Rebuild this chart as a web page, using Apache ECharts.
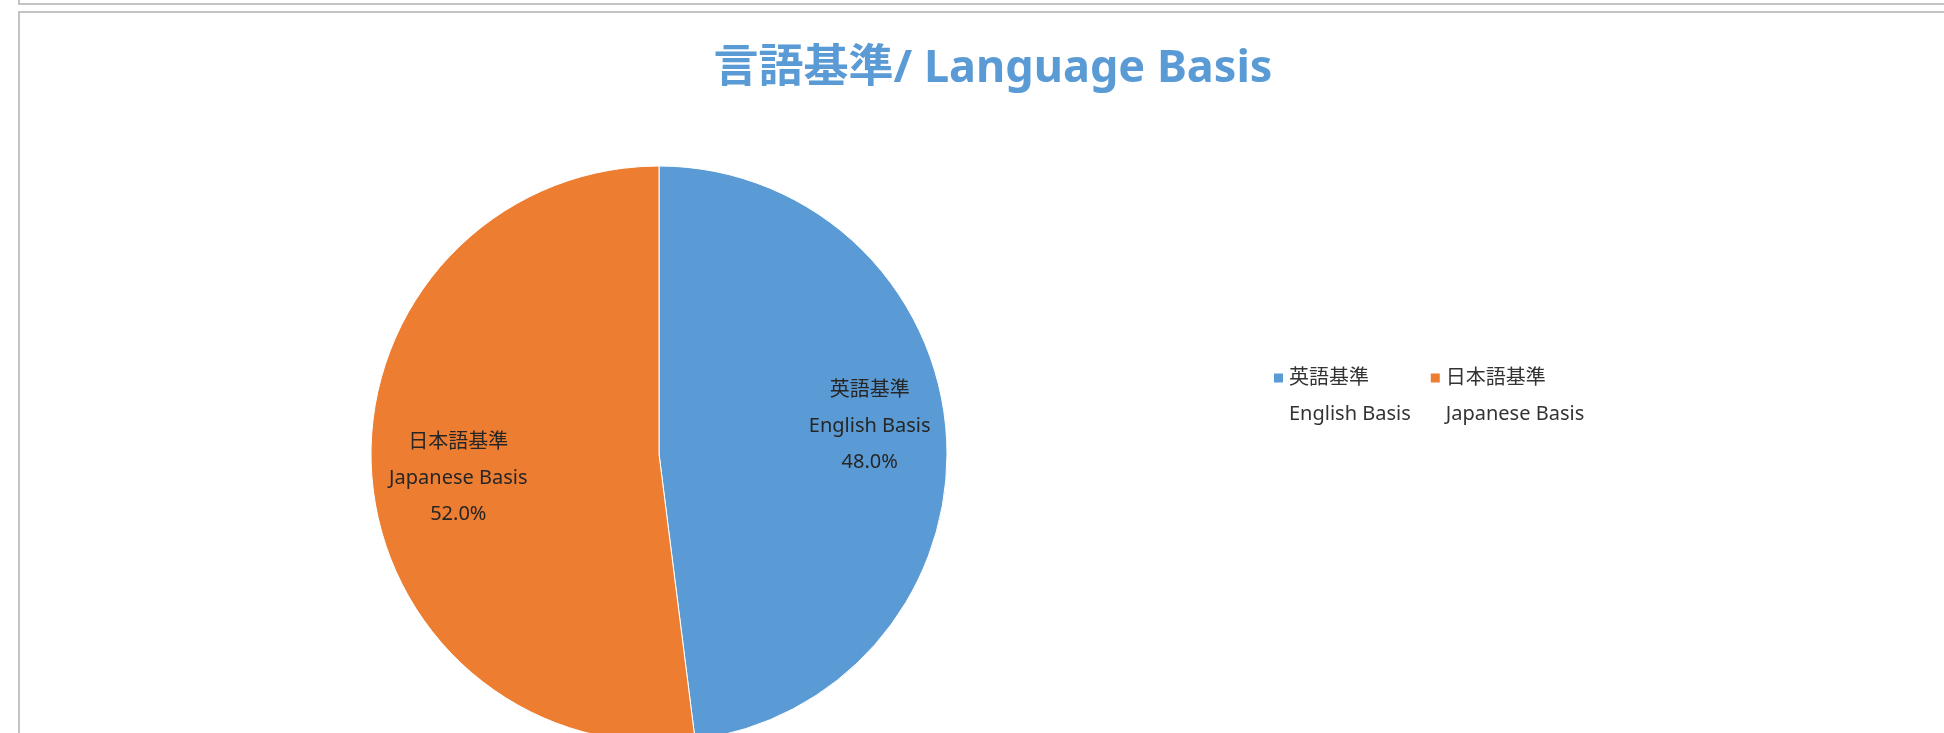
<!DOCTYPE html>
<html>
<head>
<meta charset="utf-8">
<title>言語基準/ Language Basis</title>
<script src="https://cdn.jsdelivr.net/npm/echarts@6/dist/echarts.min.js"></script>
<style>
  html, body { margin: 0; padding: 0; background: #fff; overflow: hidden; }
  #chart { width: 1944px; height: 733px; }
  .frame { position: absolute; border-color: #c4c4c4; border-style: solid; pointer-events: none; }
  #frame-top { left: 18px; top: -10px; width: 1940px; height: 13px; border-width: 0 0 2px 2px; }
  #frame-main { left: 18px; top: 11px; width: 1940px; height: 740px; border-width: 2px 0 0 2px; }
</style>
</head>
<body>
<div id="chart"></div>
<div class="frame" id="frame-top"></div>
<div class="frame" id="frame-main"></div>
<script>
// data
const categories = ['英語基準\nEnglish Basis', '日本語基準\nJapanese Basis'];
const shares = [48, 52];
const sliceColors = ['#5B9BD5', '#ED7D31'];
// inside-label nudges (Excel places them further out than echarts)
const labelOffsets = [[64, -18], [-54, 15]];

const FONT = '"Noto Sans", "Noto Sans CJK JP", sans-serif';

const myChart = echarts.init(document.getElementById('chart'));

myChart.setOption({
  animation: false,
  color: sliceColors,
  title: {
    text: '言語基準/ Language Basis',
    left: 988,
    top: 42,
    textAlign: 'center',
    textStyle: {
      color: '#5B9BD5',
      fontFamily: FONT,
      fontWeight: 'bold',
      fontSize: 45,
    },
  },
  legend: {
    orient: 'horizontal',
    left: 1272,
    top: 324,
    padding: 0,
    itemGap: 18,
    itemWidth: 11,
    itemHeight: 11,
    icon: 'rect',
    data: categories,
    // leading blank line so the marker sits beside the first text line
    formatter: (name) => `\n${name}`,
    textStyle: {
      color: '#333',
      fontFamily: FONT,
      fontSize: 20,
      lineHeight: 36,
    },
  },
  series: [
    {
      name: '',
      type: 'pie',
      center: [659, 454],
      radius: 288,
      startAngle: 90,
      clockwise: true,
      label: {
        show: true,
        position: 'inside',
        color: '#262626',
        fontFamily: FONT,
        fontSize: 20,
        lineHeight: 36,
        formatter: (params) => `${params.name}\n${params.percent.toFixed(1)}%`,
      },
      labelLine: { show: false },
      itemStyle: {
        borderColor: '#fff',
        borderWidth: 1,
      },
      emphasis: { disabled: true },
      data: categories.map((name, i) => ({
        name,
        value: shares[i],
        label: { offset: labelOffsets[i] },
      })),
    },
  ],
});
</script>
</body>
</html>
